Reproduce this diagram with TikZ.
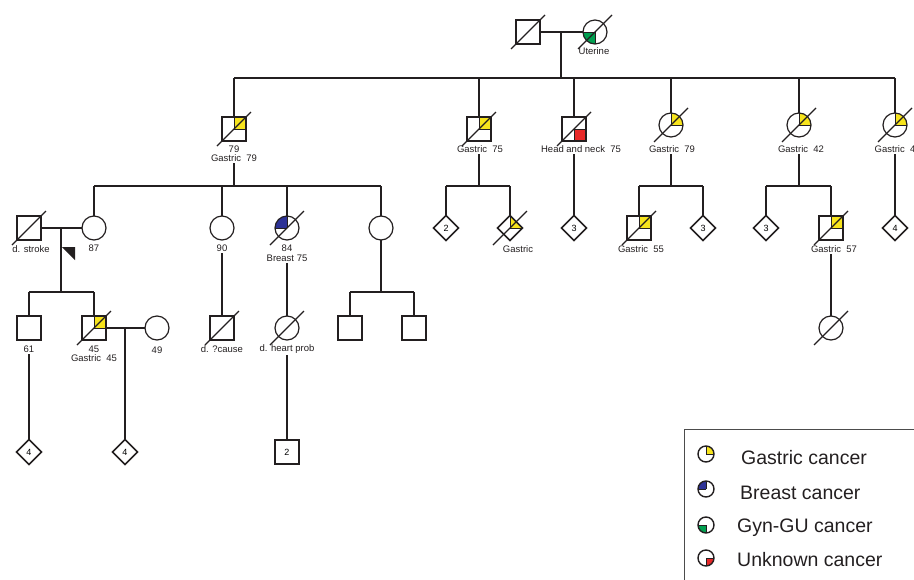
\documentclass[tikz,border=0pt]{standalone}
\usepackage{fontspec}
\setmainfont{Liberation Sans}
\usetikzlibrary{shapes.geometric}
\pgfdeclarelayer{bg}
\pgfsetlayers{bg,main}
\definecolor{gyel}{RGB}{247,228,28}
\definecolor{gblue}{RGB}{45,50,150}
\definecolor{ggreen}{RGB}{0,160,80}
\definecolor{gred}{RGB}{232,40,40}
\definecolor{ink}{RGB}{35,31,32}
\tikzset{
  ln/.style={line width=1.6pt, draw=ink},
  sym/.style={draw=ink, line width=1.2pt, inner sep=0pt, outer sep=0pt},
  male/.style={sym, rectangle, minimum size=24pt, font=\fontsize{9}{10}\selectfont},
  fem/.style={sym, circle, minimum size=24pt},
  unk/.style={sym, diamond, minimum width=25pt, minimum height=25pt, line width=1.6pt, font=\fontsize{9}{10}\selectfont},
  lab/.style={inner sep=1.5pt, font=\fontsize{9.5}{10}\selectfont, text=ink},
  qln/.style={draw=ink, line width=0.6pt},
  sl/.style={draw=ink, line width=1.1pt},
  legbox/.style={draw=black!70, line width=1pt},
  legsym/.style={sym, circle, minimum size=16pt, line width=1.4pt},
  legt/.style={inner sep=0pt, font=\fontsize{19.5}{21}\selectfont, text=ink},
}
\newcommand\qsq[4]{\begin{pgfonlayer}{bg}\begin{scope}\clip (#1.south west) rectangle (#1.north east);
  \fill[#2] (#1.center) rectangle ++(#3,#4);
  \draw[qln] (#1.center) -- ++(#3,0) (#1.center) -- ++(0,#4);\end{scope}\end{pgfonlayer}}
\newcommand\qci[5]{\begin{pgfonlayer}{bg}\begin{scope}\clip (#1.center) circle[radius=#5];
  \fill[#2] (#1.center) rectangle ++(#3,#4);
  \draw[qln] (#1.center) -- ++(#3,0) (#1.center) -- ++(0,#4);\end{scope}\end{pgfonlayer}}
\newcommand\qdi[4]{\begin{pgfonlayer}{bg}\begin{scope}\clip (#1.north) -- (#1.east) -- (#1.south) -- (#1.west) -- cycle;
  \fill[#2] (#1.center) rectangle ++(#3,#4);
  \draw[qln] (#1.center) -- ++(#3,0) (#1.center) -- ++(0,#4);\end{scope}\end{pgfonlayer}}
\newcommand\dead[1]{\draw[sl] (#1.center) ++(-17,17) -- ++(34,-34);}
\begin{document}
\begin{tikzpicture}[x=1pt,y=-1pt]
\useasboundingbox (0,0) rectangle (914,579);
% ---------- generation I
\node[male] (i1) at (528,32) {};
\node[fem] (i2) at (595,32) {};
\qci{i2}{ggreen}{-14}{14}{12}
\dead{i1}\dead{i2}
\node[lab] (i2l) at (594,51) {Uterine};
\draw[ln] (i1) -- (i2);
\coordinate (m1) at (561,32);
\coordinate (s1) at (561,78);
\coordinate (s1l) at (234,78);
\coordinate (s1r) at (895,78);
\draw[ln] (m1) -- (s1);
\draw[ln] (s1l) -- (s1r);
% ---------- generation II
\node[male] (a1) at (234,129) {};
\node[male] (a2) at (479,129) {};
\node[male] (a3) at (574,129) {};
\node[fem] (a4) at (671,125) {};
\node[fem] (a5) at (799,125) {};
\node[fem] (a6) at (895,125) {};
\qsq{a1}{gyel}{14}{-14}\qsq{a2}{gyel}{14}{-14}\qsq{a3}{gred}{14}{14}
\qci{a4}{gyel}{14}{-14}{12}\qci{a5}{gyel}{14}{-14}{12}\qci{a6}{gyel}{14}{-14}{12}
\dead{a1}\dead{a2}\dead{a3}\dead{a4}\dead{a5}\dead{a6}
\node[lab] (a1l1) at (234,149) {79};
\node[lab] (a1l2) at (234,158) {Gastric~ 79};
\node[lab] (a2l) at (480,149) {Gastric~ 75};
\node[lab] (a3l) at (581,149) {Head and neck~ 75};
\node[lab] (a4l) at (672,149) {Gastric~ 79};
\node[lab] (a5l) at (801,149) {Gastric~ 42};
\node[lab, anchor=west] (a6l) at (873,149) {Gastric~ 4};
\foreach \n in {a1,a2,a3,a4,a5,a6} \draw[ln] (\n |- s1) -- (\n);
% ---------- generation III (left family)
\coordinate (s2l) at (94,186);
\coordinate (s2r) at (381,186);
\draw[ln] (a1l2.south) -- (a1 |- s2l);
\draw[ln] (s2l) -- (s2r);
\node[male] (b0) at (29,228) {};
\node[fem] (b1) at (94,228) {};
\node[fem] (b2) at (222,228) {};
\node[fem] (b3) at (287,228) {};
\node[fem] (b4) at (381,228) {};
\qci{b3}{gblue}{-14}{-14}{12}
\dead{b0}\dead{b3}
\foreach \n in {b1,b2,b3,b4} \draw[ln] (\n |- s2l) -- (\n);
\node[lab] (b0l) at (31,249) {d. stroke};
\node[lab] (b1l) at (94,248) {87};
\node[lab] (b2l) at (222,248) {90};
\node[lab] (b3l1) at (287,248) {84};
\node[lab] (b3l2) at (287,258) {Breast 75};
\draw[ln] (b0) -- (b1);
\coordinate (mb) at (61,228);
\fill[ink] (62,247) -- (75,247) -- (75,260) -- cycle;
% ---------- generation III (other families)
\coordinate (s3l) at (446,186);
\coordinate (s3r) at (510,186);
\draw[ln] (a2 |- a2l.south) -- (a2 |- s3l);
\draw[ln] (s3l) -- (s3r);
\node[unk] (b5) at (446,228) {2};
\node[unk] (b6) at (510,228) {};
\qdi{b6}{gyel}{14}{-14}
\dead{b6}
\node[lab] (b6l) at (518,249) {Gastric};
\draw[ln] (b5 |- s3l) -- (b5);
\draw[ln] (b6 |- s3l) -- (b6);
\node[unk] (b7) at (574,228) {3};
\draw[ln] (b7 |- a3l.south) -- (b7);
\coordinate (s4l) at (639,186);
\coordinate (s4r) at (703,186);
\draw[ln] (a4 |- a4l.south) -- (a4 |- s4l);
\draw[ln] (s4l) -- (s4r);
\node[male] (b8) at (639,228) {};
\qsq{b8}{gyel}{14}{-14}
\dead{b8}
\node[lab] (b8l) at (641,249) {Gastric~ 55};
\node[unk] (b9) at (703,228) {3};
\draw[ln] (b8 |- s4l) -- (b8);
\draw[ln] (b9 |- s4l) -- (b9);
\coordinate (s5l) at (766,186);
\coordinate (s5r) at (831,186);
\draw[ln] (a5 |- a5l.south) -- (a5 |- s5l);
\draw[ln] (s5l) -- (s5r);
\node[unk] (b10) at (766,228) {3};
\node[male] (b11) at (831,228) {};
\qsq{b11}{gyel}{14}{-14}
\dead{b11}
\node[lab] (b11l) at (834,249) {Gastric~ 57};
\draw[ln] (b10 |- s5l) -- (b10);
\draw[ln] (b11 |- s5l) -- (b11);
\node[unk] (b12) at (895,228) {4};
\draw[ln] (b12 |- a6l.south) -- (b12);
% ---------- generation IV
\coordinate (s6l) at (29,292);
\coordinate (s6r) at (94,292);
\draw[ln] (mb) -- (mb |- s6l);
\draw[ln] (s6l) -- (s6r);
\node[male] (c1) at (29,328) {};
\node[male] (c2) at (94,328) {};
\node[fem] (c3) at (157,328) {};
\qsq{c2}{gyel}{14}{-14}
\dead{c2}
\draw[ln] (c1 |- s6l) -- (c1);
\draw[ln] (c2 |- s6l) -- (c2);
\draw[ln] (c2) -- (c3);
\coordinate (mc) at (125,328);
\node[lab] (c1l) at (29,349) {61};
\node[lab] (c2l1) at (94,349) {45};
\node[lab] (c2l2) at (94,358) {Gastric~ 45};
\node[lab] (c3l) at (157,350) {49};
\node[male] (c4) at (222,328) {};
\dead{c4}
\node[lab] (c4l) at (222,349) {d. ?cause};
\draw[ln] (b2l.south) -- (c4);
\node[fem] (c5) at (287,328) {};
\dead{c5}
\node[lab] (c5l) at (287,349) {d. heart prob};
\draw[ln] (b3l2.south) -- (c5);
\coordinate (s7l) at (350,292);
\coordinate (s7r) at (414,292);
\draw[ln] (b4) -- (b4 |- s7l);
\draw[ln] (s7l) -- (s7r);
\node[male] (c6) at (350,328) {};
\node[male] (c7) at (414,328) {};
\draw[ln] (c6 |- s7l) -- (c6);
\draw[ln] (c7 |- s7l) -- (c7);
\node[fem] (c8) at (831,328) {};
\dead{c8}
\draw[ln] (b11 |- b11l.south) -- (c8);
% ---------- generation V
\node[unk] (d1) at (29,452) {4};
\node[unk] (d2) at (125,452) {4};
\node[male] (d3) at (287,452) {2};
\draw[ln] (c1l.south) -- (d1);
\draw[ln] (mc) -- (d2);
\draw[ln] (c5l.south) -- (d3);
% ---------- legend
\draw[legbox] (684,429) rectangle (940,600);
\node[legsym] (k1) at (706,454) {};
\node[legsym] (k2) at (706,489) {};
\node[legsym] (k3) at (706,525) {};
\node[legsym] (k4) at (706,558) {};
\qci{k1}{gyel}{10}{-10}{8}
\qci{k2}{gblue}{-10}{-10}{8}
\qci{k3}{ggreen}{-10}{10}{8}
\qci{k4}{gred}{10}{10}{8}
\node[legt, anchor=base west] (k1t) at (741,464) {Gastric cancer};
\node[legt, anchor=base west] (k2t) at (740,499) {Breast cancer};
\node[legt, anchor=base west] (k3t) at (737,532) {Gyn-GU cancer};
\node[legt, anchor=base west] (k4t) at (737,566) {Unknown cancer};
\end{tikzpicture}
\end{document}
